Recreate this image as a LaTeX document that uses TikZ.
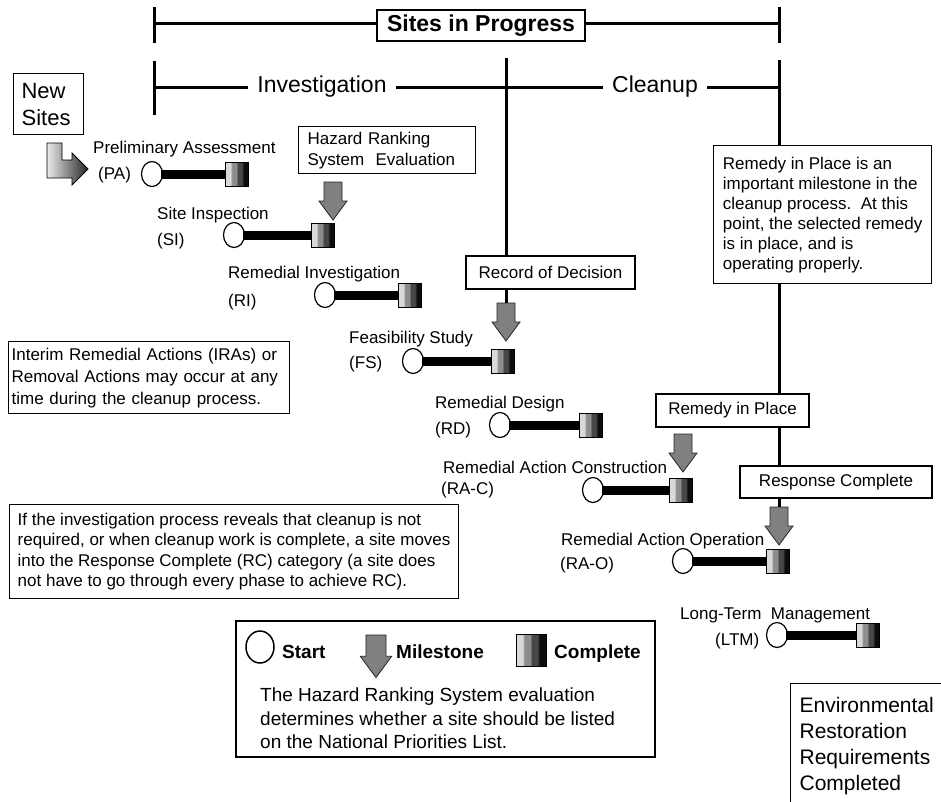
\documentclass[tikz,border=0pt]{standalone}
\usepackage{fontspec}
\setmainfont{Liberation Sans}
\usepackage{tikz}
\usetikzlibrary{positioning}
\usetikzlibrary{shapes}
\usetikzlibrary{calc}
\pgfdeclarehorizontalshading{donestripes}{100bp}{color(0bp)=(black!15); color(37.4bp)=(black!15); color(37.6bp)=(black!45); color(49.9bp)=(black!45); color(50.1bp)=(black!72); color(62.4bp)=(black!72); color(62.6bp)=(black!95); color(100bp)=(black!95)}
\tikzstyle{rule} = [draw, line width=3pt]
\tikzstyle{note} = [rectangle, draw, line width=1.2pt, fill=white, align=left, inner sep=0pt, font=\fontsize{17}{20}\selectfont]
\tikzstyle{stage} = [fill=white, inner xsep=9pt, inner ysep=0pt, font=\fontsize{23}{26}\selectfont]
\tikzstyle{phase} = [inner sep=0pt, anchor=base west, font=\fontsize{17}{20}\selectfont]
\tikzstyle{startmark} = [ellipse, draw, line width=1.2pt, fill=white, minimum width=21pt, minimum height=25pt, inner sep=0pt]
\tikzstyle{donemark} = [rectangle, draw, line width=1pt, shade, shading=donestripes, minimum width=23pt, minimum height=24pt, inner sep=0pt]
\tikzstyle{progbar} = [draw, line width=9pt, shorten <=-2pt, shorten >=-1pt]
\tikzstyle{milestone} = [draw=black!85, line width=0.8pt, fill=black!50]
\tikzstyle{legendtext} = [inner sep=0pt, anchor=base west, font=\fontsize{19}{22}\selectfont\bfseries]

\begin{document}
\begin{tikzpicture}[x=1pt, y=-1pt]
  \useasboundingbox (0,0) rectangle (941,801);

  % sites in progress
  \coordinate (sipL) at (154,23);
  \coordinate (sipR) at (779,23);
  \draw[rule] (sipL) -- (sipR);
  \foreach \x in {154,779}
    \draw[rule] (\x,7) -- (\x,43);
  \node[note, minimum width=208pt, minimum height=31pt, font=\fontsize{23}{26}\selectfont\bfseries] (sip) at (481,25.5) {Sites in Progress};

  % investigation / cleanup
  \coordinate (invL) at (154,87);
  \coordinate (clnR) at (779,87);
  \coordinate (rodtop) at (506,58);
  \coordinate (rctop) at (779,60);
  \draw[rule] (invL) -- (clnR);
  \draw[rule] (154,61) -- (154,115);
  \node[stage] (inv) at (322,87) {Investigation};
  \node[stage] (cln) at (655,87) {Cleanup};

  % legend frame
  \node[note, minimum width=419pt, minimum height=136pt] (legend) at (445.5,689) {};

  % milestones
  \foreach \name/\x/\y/\s in {hrs/333/182/1, rod/506/303/1, rip/683/434/1, rc/779/507/1, legM/376/635/1.12}
  {
    \coordinate (\name) at (\x,\y);
    \draw[milestone] (\x-9*\s,\y) -- (\x+9*\s,\y) -- (\x+9*\s,\y+19*\s) -- (\x+14*\s,\y+19*\s)
      -- (\x,\y+38*\s) -- (\x-14*\s,\y+19*\s) -- (\x-9*\s,\y+19*\s) -- cycle;
  }
  \draw[rule] (rodtop) -- (rod);
  \draw[rule] (rctop) -- (rc);

  % new sites
  \node[note, anchor=north west, minimum height=61pt, inner xsep=8pt, text width=54pt, font=\fontsize{22}{27}\selectfont] (new) at (13,73) {New\\Sites};
  \draw[left color=black!8, right color=black!85, draw=black, line width=0.8pt]
    (47,143) -- (62,143) -- (62,160) -- (72,160) -- (72,153) -- (88,169) -- (72,185) -- (72,178) -- (47,178) -- cycle;

  % phases
  \foreach \id/\nm/\ab/\nx/\ny/\ax/\ay/\cx/\cy/\bx in {
      pa/Preliminary Assessment/(PA)/93/153/98/179/152/174/237,
      si/Site Inspection/(SI)/157/219/157/245/234/235/323,
      ri/Remedial Investigation/(RI)/228/278/228/306/325/295/410,
      fs/Feasibility Study/(FS)/349/343/349/368/413/361/503,
      rd/Remedial Design/(RD)/435/408/435/434/500/425/591,
      rac/Remedial Action Construction/(RA-C)/443/473/441/494/593/490/681,
      rao/Remedial Action Operation/(RA-O)/561/545/560/569/683/561/778,
      ltm/Long-Term\ \ Management/(LTM)/680/619/715/645/777/635/868}
  {
    \node[phase] (n\id) at (\nx,\ny) {\nm};
    \node[phase] (a\id) at (\ax,\ay) {\ab};
    \node[startmark] (s\id) at (\cx,\cy) {};
    \node[donemark] (c\id) at (\bx,\cy) {};
    \draw[progbar] (s\id) -- (c\id);
  }

  % notes
  \node[note, anchor=north west, minimum height=47pt, inner xsep=9pt, text width=159pt, font=\fontsize{17}{21}\selectfont] (hrsbox) at (298,126) {Hazard Ranking\\System\ \ Evaluation};
  \node[note, anchor=north west, minimum width=218pt, minimum height=138pt] (ripnote) at (713,145)
    {Remedy in Place is an\\important milestone in the\\cleanup process.\ \ At this\\point, the selected remedy\\is in place, and is\\operating properly.};
  \node[note, minimum width=169pt, minimum height=33pt] (rodbox) at (550.5,272.5) {Record of Decision};
  \node[note, minimum width=153pt, minimum height=33pt] (ripbox) at (732.5,410.5) {Remedy in Place};
  \node[note, minimum width=192pt, minimum height=32pt] (rcbox) at (836,482) {Response Complete};
  \node[note, anchor=north west, minimum height=72pt, inner xsep=3pt, text width=275pt, font=\fontsize{17}{22}\selectfont] (ira) at (8,341)
    {Interim Remedial Actions (IRAs) or\\Removal Actions may occur at any\\time during the cleanup process.};
  \node[note, anchor=north west, minimum width=449pt, minimum height=94pt, font=\fontsize{17}{20.5}\selectfont] (rcnote) at (9,504)
    {If the investigation process reveals that cleanup is not\\required, or when cleanup work is complete, a site moves\\into the Response Complete (RC) category (a site does\\not have to go through every phase to achieve RC).};
  \node[note, anchor=north west, inner xsep=9pt, inner ysep=13.5pt, text width=182pt, font=\fontsize{21}{26}\selectfont] (errc) at (790,683)
    {Environmental\\Restoration\\Requirements\\Completed};

  % legend
  \node[startmark, minimum width=28pt, minimum height=32pt, line width=1.5pt] (legS) at (260,647) {};
  \node[legendtext] (legSt) at (282,658) {Start};
  \node[legendtext] (legMt) at (396,658) {Milestone};
  \node[donemark, minimum width=30pt, minimum height=32pt] (legC) at (531,650) {};
  \node[legendtext] (legCt) at (554,658) {Complete};
  \node[anchor=north west, inner sep=0pt, align=left, font=\fontsize{19}{23.5}\selectfont] (legT) at (260,688)
    {The Hazard Ranking System evaluation\\determines whether a site should be listed\\on the National Priorities List.};
\end{tikzpicture}
\end{document}
